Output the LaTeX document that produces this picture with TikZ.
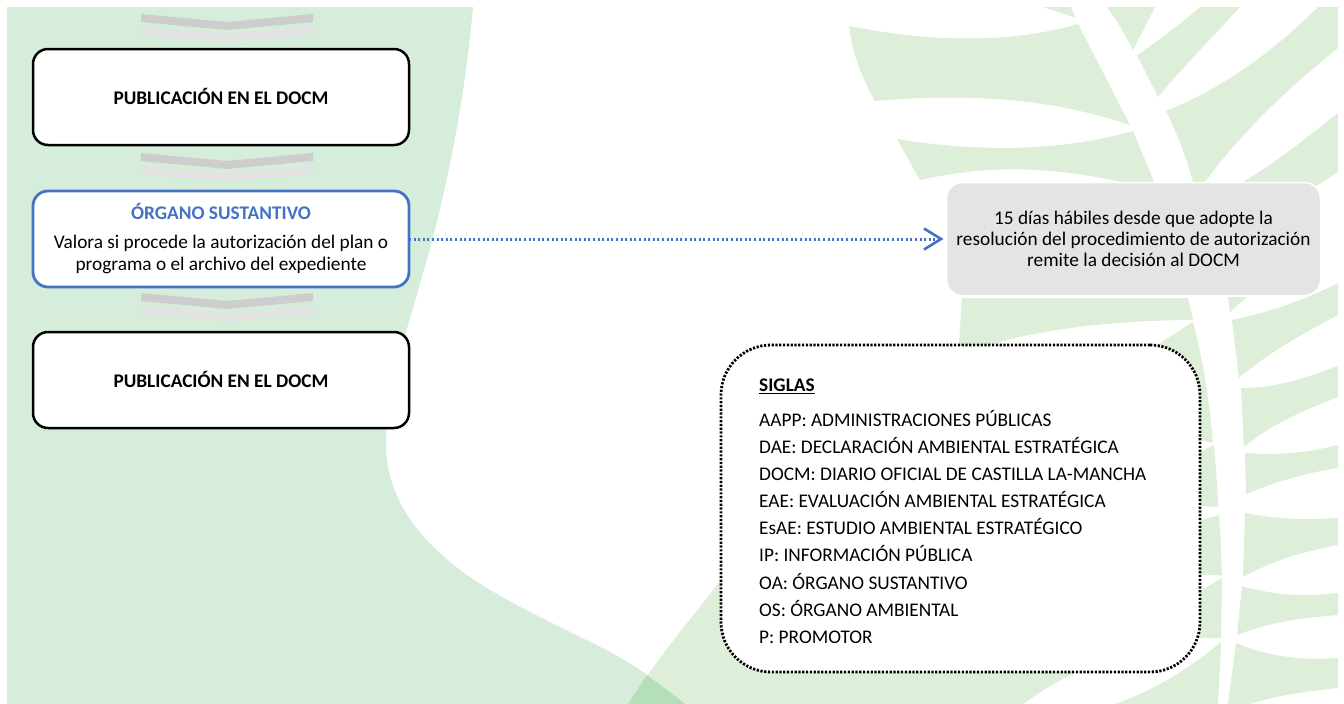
\documentclass[tikz,border=0pt]{standalone}
\usepackage{fontspec}
\setmainfont{Carlito}
\usetikzlibrary{arrows.meta}
\definecolor{greenleft}{HTML}{D5EDDA}
\definecolor{greenright}{HTML}{DDEED9}
\definecolor{greenboth}{HTML}{B5DFB8}
\definecolor{chevdark}{HTML}{CDCDCD}
\definecolor{chevlight}{HTML}{E3E3E3}
\definecolor{osblue}{HTML}{4472C4}
\definecolor{plazogray}{HTML}{E4E4E4}
\tikzset{
  flowbox/.style={draw=black,fill=white,line width=2.5pt,rounded corners=15pt,minimum width=376pt,minimum height=96pt,inner sep=0pt,outer sep=0pt,align=center},
  blackbold/.style={font=\fontsize{19.3}{23}\selectfont\bfseries,text depth=2pt},
  osbox/.style={flowbox,draw=osblue,line width=2.8pt,font=\fontsize{19.3}{22}\selectfont},
  plazobox/.style={draw=white,line width=1.5pt,fill=plazogray,rounded corners=16pt,minimum width=374pt,minimum height=113pt,inner sep=0pt,outer sep=0pt,align=center,font=\fontsize{19.3}{21}\selectfont},
  siglasbox/.style={draw=black,fill=white,line width=2.8pt,dash pattern=on 2.2pt off 1.6pt,rounded corners=50pt,minimum width=479pt,minimum height=327pt,inner sep=0pt,outer sep=0pt},
  siglastext/.style={anchor=west,align=left,inner sep=0pt,font=\fontsize{19.3}{27.1}\selectfont},
  leaf/.style={fill=greenright,draw=none},
  dotarrow/.style={draw=osblue,line width=3pt,dash pattern=on 2pt off 2.6pt,-{Straight Barb[length=17pt,width=21pt,line width=2.6pt]}}
}
\begin{document}
\begin{tikzpicture}[x=1pt,y=-1pt]
\useasboundingbox (0,0) rectangle (1344,704);
\fill[white] (0,0) rectangle (1344,704);
% left background
\fill[greenleft] (7,7) -- (473,7) .. controls (465,100) and (445,200) .. (421,280) .. controls (410,320) and (386,390) .. (386,443) .. controls (386,500) and (420,540) .. (464,573) .. controls (495,595) and (530,612) .. (560,627) .. controls (590,642) and (620,655) .. (647,675) .. controls (660,685) and (673,694) .. (685,704) -- (7,704) -- cycle;
% right leaves
\fill[leaf] (1043,7) -- (1071,7) -- (1076,18) .. controls (1065,14) and (1055,11) .. cycle;
\fill[leaf] (849,26) .. controls (930,42) and (1009,44) .. (1078,24) -- (1130,125) .. controls (1076,107) and (1000,90) .. (875,101) .. controls (860,75) and (852,50) .. cycle;
\fill[leaf] (897,139) .. controls (975,152) and (1060,152) .. (1133,131) -- (1155,184) -- (1130,184) .. controls (1076,172) and (1009,160) .. (920,180) -- cycle;
\fill[leaf] (1107,7) -- (1155,7) -- (1133,50) .. controls (1125,35) and (1118,22) .. (1107,7) -- cycle;
\fill[leaf] (1137,55) .. controls (1160,40) and (1180,24) .. (1200,7) -- (1240,7) .. controls (1210,40) and (1180,70) .. (1158,97) -- cycle;
\fill[leaf] (1166,111) .. controls (1230,85) and (1280,45) .. (1318,7) -- (1338,7) -- (1338,48) .. controls (1285,90) and (1235,140) .. (1205,182) -- (1193,182) .. controls (1187,160) and (1178,135) .. (1166,111) -- cycle;
\fill[leaf] (1243,182) .. controls (1280,160) and (1310,135) .. (1338,113) -- (1338,172) -- (1310,190) -- (1243,190) -- cycle;
\fill[leaf] (1228,297) -- (1247,297) -- (1230,312) -- cycle;
\fill[leaf] (1232,320) .. controls (1270,312) and (1305,300) .. (1338,283) -- (1338,315) .. controls (1300,335) and (1265,355) .. (1239,378) -- cycle;
\fill[leaf] (1241,388) .. controls (1280,388) and (1310,376) .. (1338,366) -- (1338,397) .. controls (1300,412) and (1270,425) .. (1244,447) -- cycle;
\fill[leaf] (1245,453) .. controls (1280,456) and (1310,452) .. (1338,445) -- (1338,468) .. controls (1305,473) and (1275,482) .. (1246,494) -- cycle;
\fill[leaf] (1245,513) .. controls (1280,520) and (1310,520) .. (1338,518) -- (1338,545) .. controls (1300,552) and (1270,562) .. (1243,577) -- cycle;
\fill[leaf] (1242,586) .. controls (1280,597) and (1310,596) .. (1338,593) -- (1338,615) .. controls (1300,618) and (1270,622) .. (1237,635) -- cycle;
\fill[leaf] (1236,643) .. controls (1270,658) and (1305,660) .. (1338,658) -- (1338,688) .. controls (1300,692) and (1275,696) .. (1250,704) -- (1228,704) -- cycle;
% leaves beside the spine, left side
\fill[leaf] (962,298) -- (1188,298) -- (1193,320) .. controls (1140,320) and (1080,325) .. (1040,333) .. controls (1010,338) and (985,345) .. (958,360) -- cycle;
\fill[leaf] (1140,356) -- (1193,322) .. controls (1203,360) and (1209,400) .. (1213,443) .. controls (1205,441) and (1195,439) .. (1185,437) -- cycle;
\fill[leaf] (1185,460) -- (1214,445) .. controls (1217,480) and (1218,500) .. (1218,507) -- (1185,505) -- cycle;
\fill[leaf] (1185,525) -- (1219,515) .. controls (1221,540) and (1221,560) .. (1222,575) -- (1185,575) -- cycle;
\fill[leaf] (1185,600) -- (1222,578) -- (1221,638) -- (1185,638) -- cycle;
\fill[leaf] (1221,642) -- (1218,704) -- (1115,704) .. controls (1155,690) and (1190,668) .. cycle;
% large lower leaf
\fill[leaf] (628,704) .. controls (660,655) and (690,620) .. (721,580) -- (800,450) -- (958,345) -- (1000,600) -- (1077,672) .. controls (1055,682) and (1040,692) .. (1023,704) -- cycle;
\fill[greenboth] (647,675) .. controls (660,685) and (673,694) .. (685,704) -- (628,704) -- cycle;
% chevrons
\foreach \dy in {0,139,279}{
  \fill[chevdark] (141,14+\dy) -- (227,22+\dy) -- (313,14+\dy) -- (313,22+\dy) -- (227,30+\dy) -- (141,22+\dy) -- cycle;
  \fill[chevlight] (141,27+\dy) -- (227,34+\dy) -- (313,27+\dy) -- (313,35+\dy) -- (227,42+\dy) -- (141,35+\dy) -- cycle;
}
% boxes
\node[flowbox,blackbold] (pub1) at (221,97) {PUBLICACIÓN EN EL DOCM};
\node[osbox] (os) at (221,239) {{\color{osblue}\bfseries ÓRGANO SUSTANTIVO}\\[7pt]Valora si procede la autorización del plan o\\programa o el archivo del expediente};
\node[flowbox,blackbold] (pub2) at (221,380) {PUBLICACIÓN EN EL DOCM};
\node[plazobox] (plazo) at (1133.5,239) {15 días hábiles desde que adopte la\\resolución del procedimiento de autorización\\remite la decisión al DOCM};
\draw[dotarrow,shorten >=3pt] (os.east) -- (plazo.west);
\node[siglasbox] (siglas) at (960.5,508.5) {};
\node[siglastext] (siglaslist) at (759,511) {\textbf{\underline{SIGLAS}}\\[8pt]AAPP: ADMINISTRACIONES PÚBLICAS\\DAE: DECLARACIÓN AMBIENTAL ESTRATÉGICA\\DOCM: DIARIO OFICIAL DE CASTILLA LA-MANCHA\\EAE: EVALUACIÓN AMBIENTAL ESTRATÉGICA\\EsAE: ESTUDIO AMBIENTAL ESTRATÉGICO\\IP: INFORMACIÓN PÚBLICA\\OA: ÓRGANO SUSTANTIVO\\OS: ÓRGANO AMBIENTAL\\P: PROMOTOR};
\end{tikzpicture}
\end{document}
